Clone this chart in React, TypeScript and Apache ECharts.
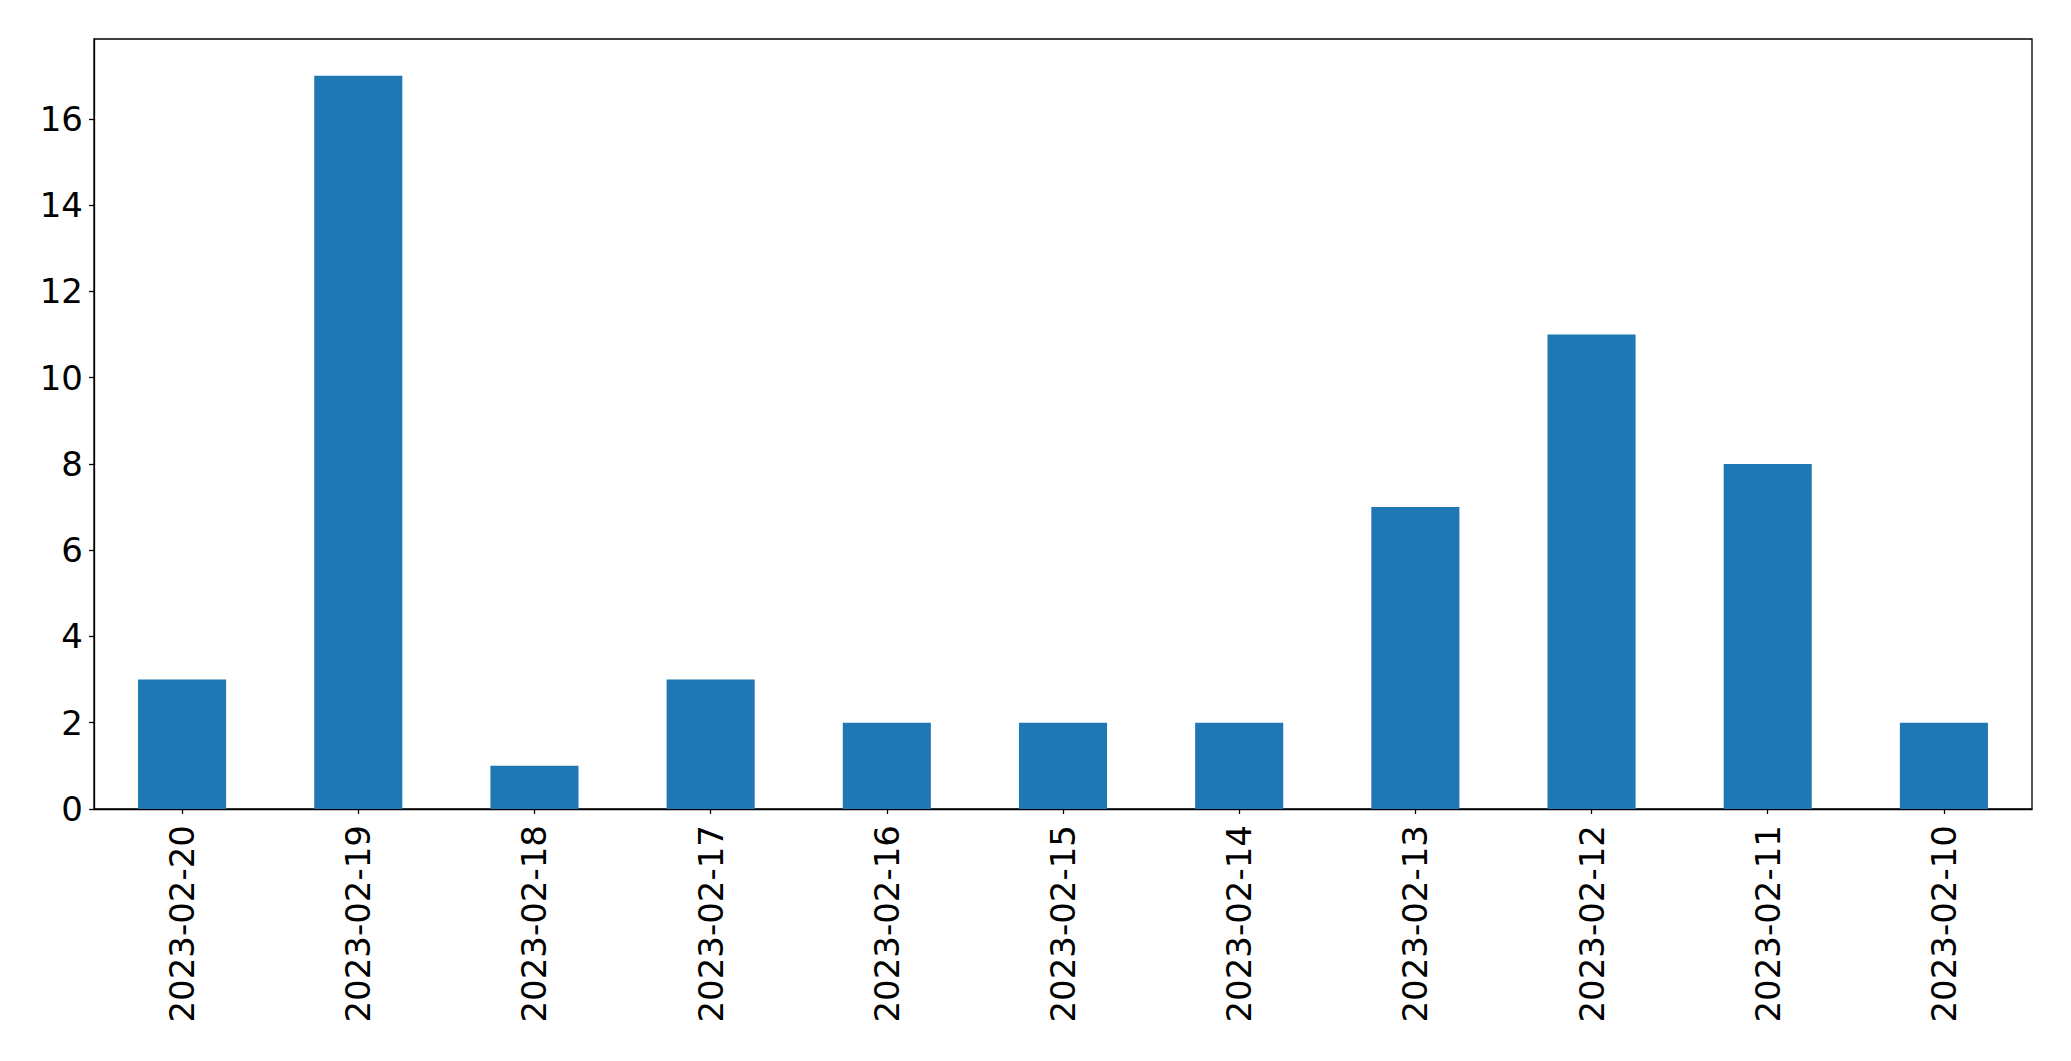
import React, { useEffect, useRef } from "react";
import * as echarts from "echarts";

const categories = [
  "2023-02-20", "2023-02-19", "2023-02-18", "2023-02-17", "2023-02-16", "2023-02-15",
  "2023-02-14", "2023-02-13", "2023-02-12", "2023-02-11", "2023-02-10",
];
const values = [3, 17, 1, 3, 2, 2, 2, 7, 11, 8, 2];
const yMax = 17.85;

export default function App() {
  const ref = useRef<HTMLDivElement>(null);
  useEffect(() => {
    if (!ref.current) return;
    const chart = echarts.init(ref.current, null, { renderer: "svg" });
    chart.setOption({
      animation: false,
      backgroundColor: "#ffffff",
      grid: {
        left: 94,
        right: 39,
        top: 39,
        bottom: 252,
        show: true,
        borderColor: "#000000",
        borderWidth: 1.3,
        containLabel: false,
      },
      xAxis: {
        type: "category",
        data: categories,
        boundaryGap: true,
        axisLine: { show: true, lineStyle: { color: "#000000", width: 1.3 } },
        axisTick: { show: true, alignWithLabel: true, length: 5, lineStyle: { color: "#000000", width: 1.3 } },
        axisLabel: {
          rotate: 90,
          margin: 16,
          fontSize: 34,
          color: "#000000",
          fontFamily: "DejaVu Sans",
          interval: 0,
        },
        splitLine: { show: false },
      },
      yAxis: {
        type: "value",
        min: 0,
        max: yMax,
        interval: 2,
        axisLine: { show: true, lineStyle: { color: "#000000", width: 1.3 } },
        axisTick: { show: true, length: 5, lineStyle: { color: "#000000", width: 1.3 } },
        axisLabel: {
          margin: 11,
          fontSize: 34,
          color: "#000000",
          fontFamily: "DejaVu Sans",
          showMaxLabel: false,
          formatter: (v: number) => (Number.isInteger(v) ? String(v) : ""),
        },
        splitLine: { show: false },
      },
      series: [
        {
          type: "bar",
          data: values,
          barWidth: "50%",
          itemStyle: { color: "#1f77b4" },
        },
      ],
    });
    return () => chart.dispose();
  }, []);
  return <div ref={ref} style={{ width: 2071, height: 1061, position: "absolute", left: 0, top: 0 }} />;
}
